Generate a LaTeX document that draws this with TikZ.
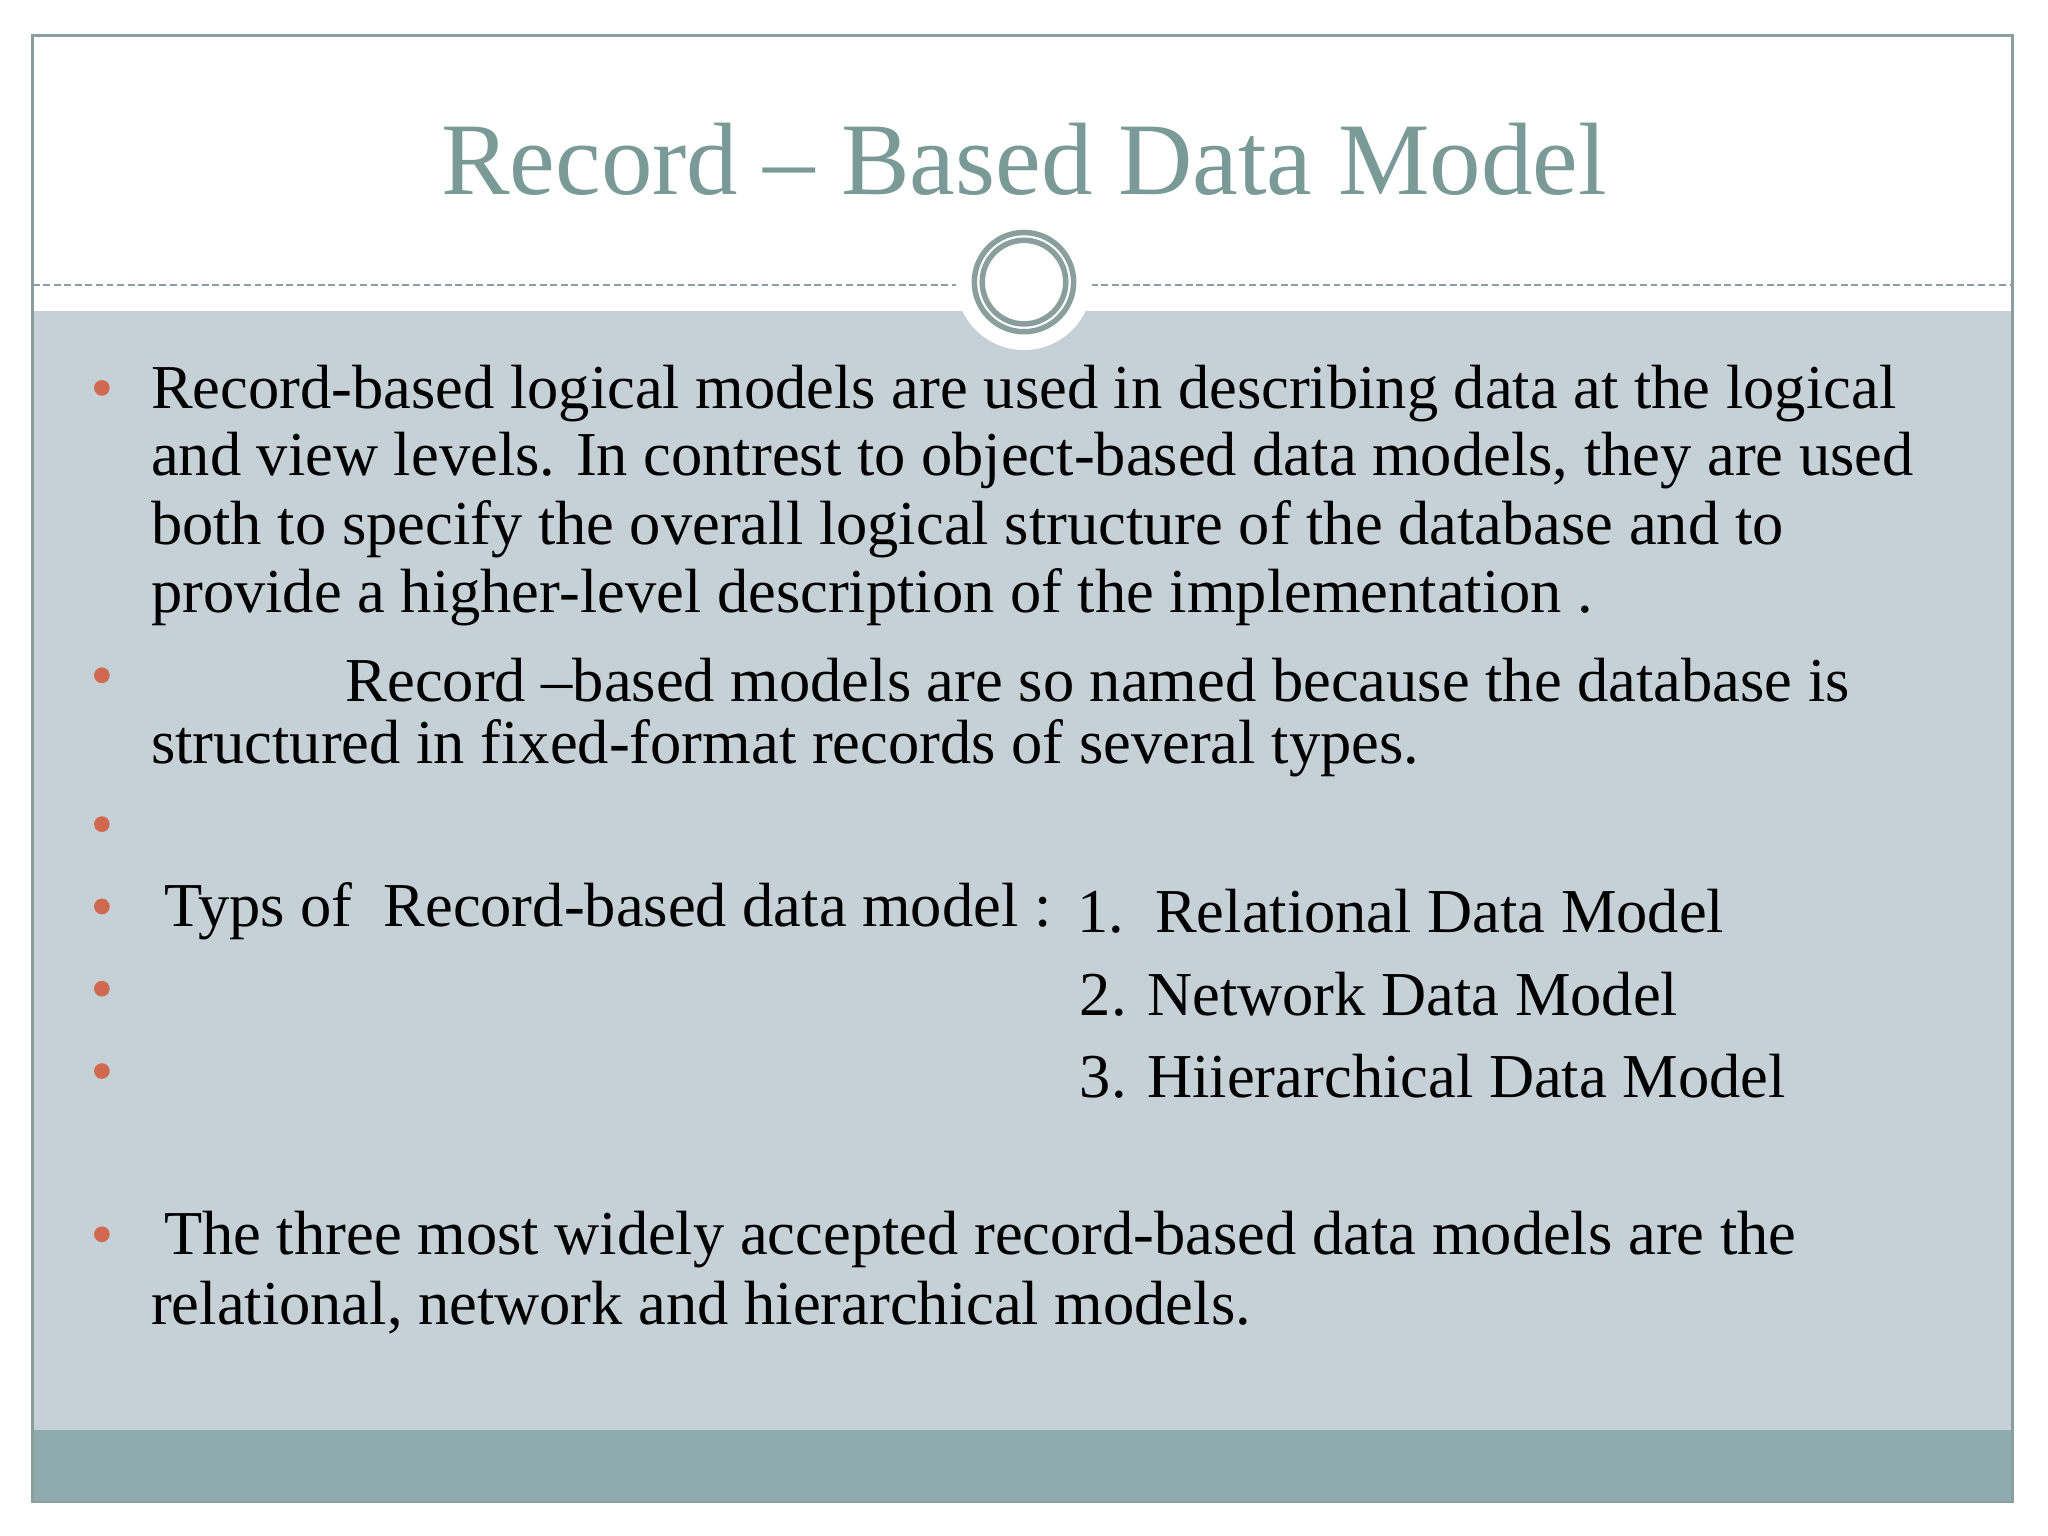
\documentclass[tikz,border=0pt]{standalone}
\usepackage{fontspec}
\setmainfont{Liberation Serif}
\definecolor{bodyc}{HTML}{C5D1D6}
\definecolor{footc}{HTML}{8FABAE}
\definecolor{titc}{HTML}{7A9A98}
\definecolor{bulc}{HTML}{D0694F}
\definecolor{ringc}{HTML}{8A9E9E}
\begin{document}
\begin{tikzpicture}[x=0.01cm,y=-0.01cm,
  txt/.style={anchor=west,inner sep=0,font=\fontsize{13.6}{16}\selectfont,text=black,yshift=-0.04cm},
  bul/.style={circle,fill=bulc,inner sep=0,minimum size=0.12cm}]
\useasboundingbox (0,0) rectangle (1568,1176);
\fill[white] (0,0) rectangle (1568,1176);
\fill[bodyc] (25,238) rectangle (1541,1095);
\fill[footc] (25,1095) rectangle (1541,1150);
\draw[ringc,line width=0.6pt] (25,27) rectangle (1541,1150);
\draw[ringc,dash pattern=on 1.5pt off 0.8pt,line width=0.4pt] (25,218) -- (735,218);
\draw[ringc,dash pattern=on 1.5pt off 0.8pt,line width=0.4pt] (835,218) -- (1541,218);
\fill[white] (784,216) circle[radius=52];
\draw[ringc,line width=1.2pt] (784,216) circle[radius=38];
\draw[ringc,line width=1.2pt] (784,216) circle[radius=32];
\node[anchor=center,text=titc,font=\fontsize{22.4}{26}\selectfont] (title) at (784,122) {Record -- Based Data Model};
\foreach \y/\n in {297/b1,517/b2,631/b3,694/b4,757/b5,820/b6,945/b7}
  \node[bul] (\n) at (78,\y) {};
\node[txt] (l1) at (115,297) {Record-based logical models are used in describing data at the logical};
\node[txt] (l2) at (115,349) {and view levels. In contrest to object-based data models, they are used};
\node[txt] (l3) at (115,401) {both to specify the overall logical structure of the database and to};
\node[txt] (l4) at (115,453) {provide a higher-level description of the implementation .};
\node[txt] (l5) at (264,517) {Record --based models are so named because the database is};
\node[txt] (l6) at (115,569) {structured in fixed-format records of several types.};
\node[txt] (l7) at (125,694) {Typs of\ \ Record-based data model :};
\node[txt] (l8) at (824,694) {1.\ \ Relational Data Model};
\node[txt] (l9) at (826,757) {2. Network Data Model};
\node[txt] (l10) at (826,820) {3. Hiierarchical Data Model};
\node[txt] (l11) at (125,945) {The three most widely accepted record-based data models are the};
\node[txt] (l12) at (115,997) {relational, network and hierarchical models.};
\end{tikzpicture}
\end{document}
